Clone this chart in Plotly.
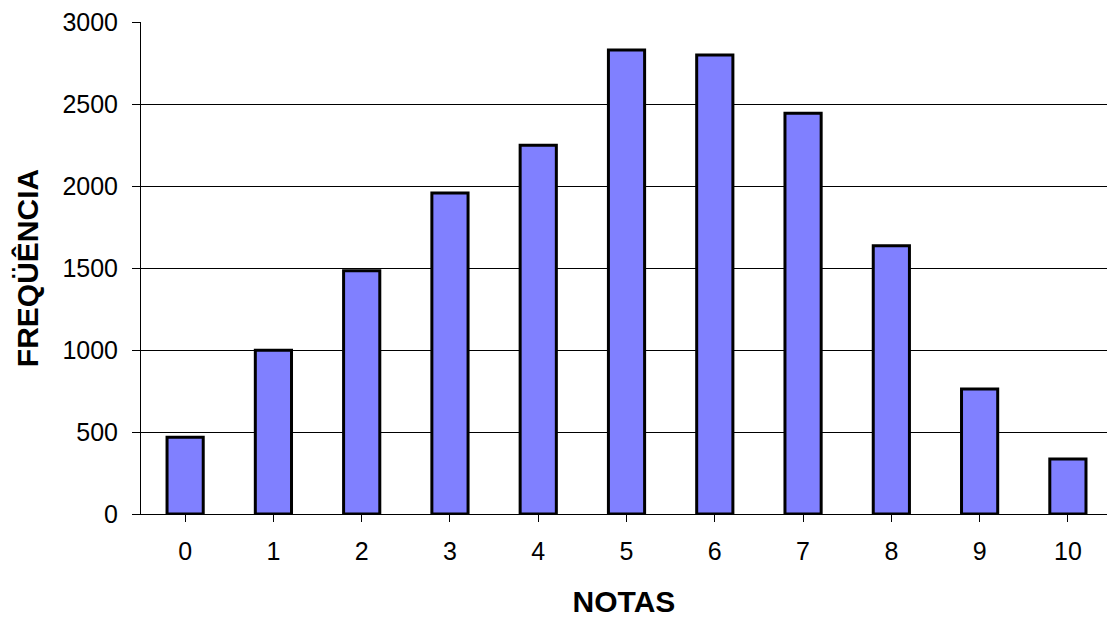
import plotly.graph_objects as go

# Frequency of grades (notas 0-10)
notas = [str(n) for n in range(11)]
frequencia = [468, 998, 1483, 1957, 2248, 2829, 2799, 2443, 1636, 762, 335]
y_ticks = [0, 500, 1000, 1500, 2000, 2500, 3000]

font_family = "Liberation Sans, Arial, sans-serif"

fig = go.Figure(
    go.Bar(
        x=list(range(len(notas))),
        y=frequencia,
        width=0.41,
        marker=dict(color="#8080FF", line=dict(color="black", width=3)),
    )
)

fig.update_layout(
    width=1107,
    height=619,
    margin=dict(l=141, r=0, t=22, b=105),
    plot_bgcolor="white",
    paper_bgcolor="white",
    showlegend=False,
    font=dict(family=font_family, color="black", size=25),
)

fig.update_xaxes(
    range=[-0.5, 10.443],
    tickmode="array",
    tickvals=list(range(len(notas))),
    ticktext=notas,
    tickson="boundaries",
    ticks="outside",
    ticklen=7,
    tickcolor="black",
    ticklabelstandoff=8,
    showline=True,
    linecolor="black",
    linewidth=1,
    showgrid=False,
    zeroline=False,
    tickfont=dict(size=25),
    title=dict(text="<b>NOTAS</b>", font=dict(size=30), standoff=26),
)

fig.update_yaxes(
    range=[0, 3000],
    tickmode="array",
    tickvals=y_ticks,
    ticks="outside",
    ticklen=8,
    tickcolor="black",
    ticklabelstandoff=9,
    showline=True,
    linecolor="black",
    linewidth=1,
    showgrid=True,
    gridcolor="black",
    gridwidth=1,
    zeroline=False,
    tickfont=dict(size=25),
    title=dict(text="<b>FREQÜÊNCIA</b>", font=dict(size=30), standoff=14),
)

fig.write_html("out.html")
